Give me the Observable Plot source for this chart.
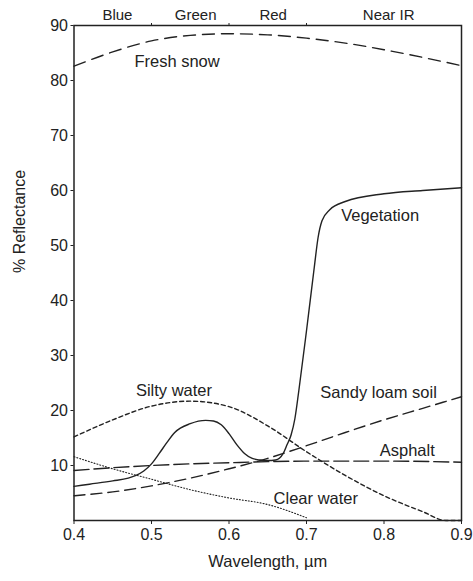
<!DOCTYPE html>
<html>
<head>
<meta charset="utf-8">
<script src="https://cdn.jsdelivr.net/npm/d3@7"></script>
<script src="https://cdn.jsdelivr.net/npm/@observablehq/plot@0.6"></script>
<style>
  html, body { margin: 0; padding: 0; background: #fff; }
  #chart svg { font-family: "Liberation Sans", Arial, sans-serif; }
</style>
</head>
<body>
<div id="chart"></div>
<script>
// Wavelength (µm) and % reflectance
const snowX = [0.40, 0.45, 0.50, 0.55, 0.60, 0.65, 0.70, 0.75, 0.80, 0.85, 0.90];
const snowY = [82.6, 85.2, 87.2, 88.2, 88.5, 88.3, 87.7, 86.8, 85.6, 84.2, 82.7];

const vegX = [0.40, 0.42, 0.45, 0.47, 0.48, 0.49, 0.50, 0.51, 0.52, 0.53, 0.55, 0.57, 0.58, 0.59, 0.60, 0.61, 0.62, 0.63, 0.64, 0.65, 0.66, 0.67, 0.675, 0.68, 0.685, 0.69, 0.70, 0.71, 0.715, 0.72, 0.73, 0.75, 0.80, 0.85, 0.90];
const vegY = [6.2, 6.6, 7.2, 7.7, 8.2, 9.0, 10.3, 12.2, 14.2, 16.0, 17.6, 18.2, 18.1, 17.4, 15.8, 13.8, 12.2, 11.3, 11.0, 10.9, 11.0, 12.2, 13.8, 15.5, 18.5, 23.5, 34.5, 46.0, 51.5, 54.5, 56.5, 58.0, 59.4, 60.0, 60.5];

const siltyX = [0.40, 0.45, 0.50, 0.55, 0.60, 0.65, 0.70, 0.75, 0.80, 0.85, 0.88, 0.90];
const siltyY = [15.2, 18.3, 20.8, 21.7, 20.7, 17.2, 12.5, 8.2, 4.5, 1.6, 0.0, 0.0];

const soilX = [0.40, 0.45, 0.50, 0.55, 0.60, 0.65, 0.70, 0.75, 0.80, 0.85, 0.90];
const soilY = [4.5, 5.2, 6.3, 7.7, 9.4, 11.3, 13.6, 16.0, 18.3, 20.4, 22.5];

const asphaltX = [0.40, 0.45, 0.50, 0.55, 0.60, 0.65, 0.70, 0.80, 0.90];
const asphaltY = [9.1, 9.6, 10.0, 10.3, 10.5, 10.7, 10.8, 10.8, 10.6];

const clearX = [0.40, 0.45, 0.50, 0.55, 0.60, 0.65, 0.70];
const clearY = [11.6, 9.4, 7.5, 5.6, 4.1, 2.9, 0.5];

// Curve labels
const labelText = ["Fresh snow", "Vegetation", "Silty water", "Sandy loam soil", "Asphalt", "Clear water"];
const labelX = [0.533, 0.795, 0.529, 0.793, 0.830, 0.712];
const labelY = [83.5, 55.5, 23.6, 23.3, 12.7, 4.0];

// Spectral bands along the top
const bandNames = ["Blue", "Green", "Red", "Near IR"];
const bandCenters = [0.456, 0.557, 0.657, 0.806];
const bandEdges = [0.5, 0.6, 0.7];

// Axis ticks
const xTicks = [0.4, 0.5, 0.6, 0.7, 0.8, 0.9];
const yTicks = [10, 20, 30, 40, 50, 60, 70, 80, 90];

const toRows = (xs, ys) => xs.map((x, i) => ({x, y: ys[i]}));
const ink = "#222";

const lineOpts = (extra) => Object.assign({x: "x", y: "y", stroke: ink, strokeWidth: 1.4, curve: "monotone-x"}, extra);

const chart = Plot.plot({
  width: 473,
  height: 581,
  marginLeft: 73.5,
  marginRight: 12,
  marginTop: 25,
  marginBottom: 61,
  style: {fontFamily: "'Liberation Sans', Arial, sans-serif", fontSize: "15px", color: ink, background: "#fff"},
  x: {domain: [0.4, 0.9]},
  y: {domain: [0, 90]},
  marks: [
    Plot.frame({stroke: ink, strokeWidth: 1.5}),
    Plot.axisX({ticks: xTicks, tickFormat: d3.format(".1f"), tickSize: 4, tickPadding: 4, label: null, fontSize: 16}),
    Plot.axisY({ticks: yTicks, tickSize: 3, tickPadding: 3, label: null, fontSize: 16}),
    Plot.axisX({anchor: "top", ticks: bandEdges, tickSize: 3, tickFormat: () => "", label: null}),
    Plot.text(bandNames, {x: (d, i) => bandCenters[i], y: () => 90, text: d => d, dy: -10, fontSize: 15, fill: ink}),
    Plot.line(toRows(snowX, snowY), lineOpts({strokeDasharray: "12,7"})),
    Plot.line(toRows(vegX, vegY), lineOpts({})),
    Plot.line(toRows(siltyX, siltyY), lineOpts({strokeDasharray: "4,3"})),
    Plot.line(toRows(soilX, soilY), lineOpts({strokeDasharray: "11,6"})),
    Plot.line(toRows(asphaltX, asphaltY), lineOpts({strokeDasharray: "15,5"})),
    Plot.line(toRows(clearX, clearY), lineOpts({strokeDasharray: "1,2", strokeWidth: 1.1})),
    Plot.text(labelText, {x: (d, i) => labelX[i], y: (d, i) => labelY[i], text: d => d, fontSize: 16.5, fill: ink}),
    Plot.text(["% Reflectance"], {frameAnchor: "left", dx: -54, rotate: -90, text: d => d, fontSize: 16, fill: ink}),
    Plot.text(["Wavelength, \u00b5m"], {frameAnchor: "bottom", dy: 46, text: d => d, fontSize: 16.5, fill: ink})
  ]
});
document.getElementById("chart").appendChild(chart);
</script>
</body>
</html>
